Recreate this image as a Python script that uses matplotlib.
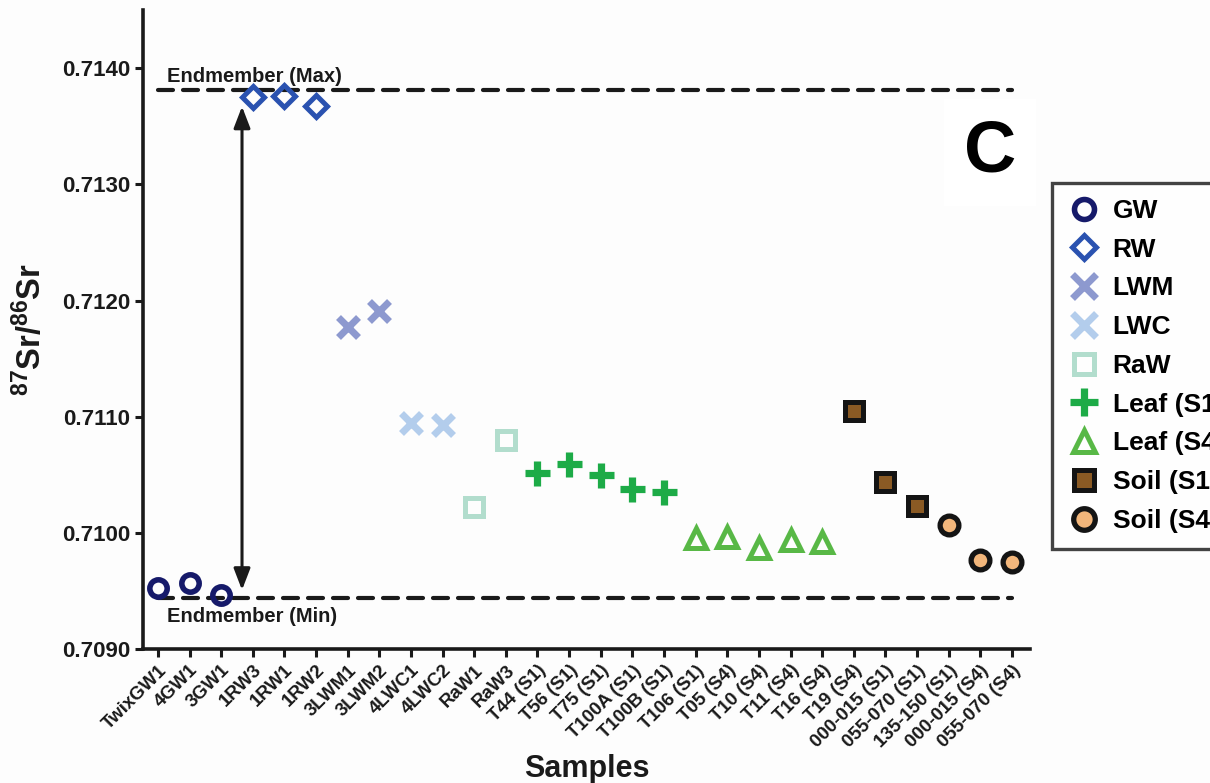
import matplotlib
matplotlib.use("Agg")
import matplotlib.pyplot as plt

plt.rcParams['font.family'] = ['Liberation Sans', 'DejaVu Sans']
plt.rcParams['font.weight'] = 'bold'
plt.rcParams['mathtext.fontset'] = 'custom'
plt.rcParams['mathtext.rm'] = 'Liberation Sans:bold'
plt.rcParams['mathtext.bf'] = 'Liberation Sans:bold'
plt.rcParams['mathtext.it'] = 'Liberation Sans:bold'

samples = ["TwixGW1", "4GW1", "3GW1", "1RW3", "1RW1", "1RW2", "3LWM1", "3LWM2",
           "4LWC1", "4LWC2", "RaW1", "RaW3", "T44 (S1)", "T56 (S1)", "T75 (S1)",
           "T100A (S1)", "T100B (S1)", "T106 (S1)", "T05 (S4)", "T10 (S4)",
           "T11 (S4)", "T16 (S4)", "T19 (S4)", "000-015 (S1)", "055-070 (S1)",
           "135-150 (S1)", "000-015 (S4)", "055-070 (S4)"]

gw = [0.70953, 0.70957, 0.70947]
rw = [0.71375, 0.71376, 0.71367]
lwm = [0.71177, 0.71191]
lwc = [0.71095, 0.71093]
raw = [0.71022, 0.71080]
leaf_s1 = [0.71052, 0.71059, 0.71050, 0.71038, 0.71035]
leaf_s4 = [0.70996, 0.70997, 0.70987, 0.70994, 0.70992]
soil_s1 = [0.71105, 0.71044, 0.71023]
soil_s4 = [0.71007, 0.70977, 0.70975]

endmember_max = 0.71381
endmember_min = 0.70944

groups = [
    ("GW", gw, dict(marker='o', mfc='none', mec='#161a6a', ms=12.5, mew=4.0)),
    ("RW", rw, dict(marker='D', mfc='none', mec='#2a52b0', ms=11, mew=3.6)),
    ("LWM", lwm, dict(marker='x', color='#8d99cf', ms=14.5, mew=5)),
    ("LWC", lwc, dict(marker='x', color='#b3cdec', ms=14.5, mew=5)),
    ("RaW", raw, dict(marker='s', mfc='none', mec='#b2ddcd', ms=13, mew=3.6)),
    ("Leaf (S1)", leaf_s1, dict(marker='+', color='#1dab47', ms=18, mew=5.2)),
    ("Leaf (S4)", leaf_s4, dict(marker='^', mfc='none', mec='#58b846', ms=14, mew=3.6)),
    ("Soil (S1)", soil_s1, dict(marker='s', mfc='#8a5a24', mec='#141414', ms=13, mew=3.6)),
    ("Soil (S4)", soil_s4, dict(marker='o', mfc='#f2b67b', mec='#141414', ms=13.5, mew=3.8)),
]

fig = plt.figure(figsize=(12.1, 7.83), dpi=100, facecolor='#fdfdfd')
ax = fig.add_axes([143/1210, 1-649.3/783, (1030-143)/1210, (649.3-10)/783])
ax.set_facecolor('#fdfdfd')

ax.plot([0, len(samples)-1], [endmember_max]*2, color='#1a1a1a', lw=3, ls=(0, (3.6, 2.4)),
        dash_capstyle='round', zorder=1)
ax.plot([0, len(samples)-1], [endmember_min]*2, color='#1a1a1a', lw=3, ls=(0, (3.6, 2.4)),
        dash_capstyle='round', zorder=1)

handles = []
idx = 0
for name, vals, style in groups:
    xs = list(range(idx, idx+len(vals)))
    idx += len(vals)
    ln, = ax.plot(xs, vals, ls='none', zorder=3, label=name, **style)
    handles.append(ln)

ax.annotate('', xy=(2.66, 0.71367), xytext=(2.66, 0.70951),
            arrowprops=dict(arrowstyle='<|-|>,head_length=1.3,head_width=0.5',
                            color='#1a1a1a', lw=2.2, shrinkA=0, shrinkB=0), zorder=2)

ax.text(0.3, endmember_max + 0.00004, "Endmember (Max)", fontsize=14.5, fontweight='bold',
        color='#1a1a1a', va='bottom', ha='left')
ax.text(0.3, endmember_min - 0.00008, "Endmember (Min)", fontsize=14.5, fontweight='bold',
        color='#1a1a1a', va='top', ha='left')

ax.set_xlim(-0.47, 27.57)
ax.set_ylim(0.7090, 0.7145)
ax.set_yticks([0.7090, 0.7100, 0.7110, 0.7120, 0.7130, 0.7140])
ax.set_yticklabels(["0.7090", "0.7100", "0.7110", "0.7120", "0.7130", "0.7140"],
                   fontsize=16, fontweight='bold', color='#1a1a1a')
ax.set_xticks(range(len(samples)))
ax.set_xticklabels(samples, rotation=45, ha='right', rotation_mode='anchor',
                   fontsize=13.5, fontweight='bold', color='#1a1a1a')

for s in ['top', 'right']:
    ax.spines[s].set_visible(False)
for s in ['left', 'bottom']:
    ax.spines[s].set_linewidth(2.6)
    ax.spines[s].set_color('#1a1a1a')
ax.tick_params(axis='both', which='major', length=6, width=2.2, color='#1a1a1a', pad=3)

ax.set_xlabel("Samples", fontsize=22, fontweight='bold', color='#1a1a1a', labelpad=2)
ax.set_ylabel(r"$^{87}$Sr/$^{86}$Sr", fontsize=23.5, fontweight='bold', color='#1a1a1a', labelpad=10)

fig.text(990/1210, 1-152/783, "C", fontsize=52, fontweight='bold', ha='center', va='center',
         color='black', bbox=dict(facecolor='white', edgecolor='none', pad=14))

leg = fig.legend(handles=handles, loc='upper left', bbox_to_anchor=(1052/1210, 1-183/783),
                 borderaxespad=0.0,
                 frameon=True, fancybox=False, edgecolor='#141414', facecolor='white',
                 prop=dict(family='Liberation Sans', weight='bold', size=19),
                 labelspacing=0.56, handletextpad=0.45, borderpad=0.6, handlelength=1.25,
                 markerscale=1.15)
leg.get_frame().set_linewidth(2.4)

fig.savefig("out.png", dpi=100, facecolor=fig.get_facecolor())
